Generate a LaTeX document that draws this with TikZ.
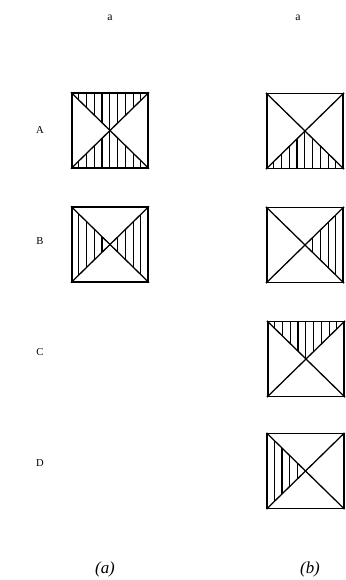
\documentclass[tikz,border=0pt]{standalone}
\usepackage{fontspec}
\setmainfont{Liberation Serif}
\usepackage{tikz}
\usetikzlibrary{positioning}

% hatch one triangle of a square: node, first corner, second corner
\newcommand{\hatchtri}[3]{%
  \begin{scope}
    \clip (#1.center) -- (#1.#2) -- (#1.#3) -- cycle;
    \foreach \i in {1,...,10}
      \draw[hatchline] ([xshift=\i*6.6pt]#1.north west) -- ([xshift=\i*6.6pt]#1.south west);
  \end{scope}}

\tikzset{
  sq/.style={draw, line width=1.4pt, minimum width=65pt, minimum height=63.5pt, inner sep=0pt},
  diag/.style={line width=1.1pt},
  hatchline/.style={line width=0.9pt},
  rowlab/.style={font=\small},
  collab/.style={font=\normalsize},
  sublab/.style={font=\Large\itshape}
}

\begin{document}
\begin{tikzpicture}[x=0.85pt, y=-0.85pt]
\useasboundingbox (0,0) rectangle (346,580);
% column and row labels
\node[collab] (ta) at (110,18) {a};
\node[collab] (tb) at (298,18) {a};
\node[rowlab] (rA) at (40,130) {A};
\node[rowlab] (rB) at (40,241) {B};
\node[rowlab] (rC) at (40,352) {C};
\node[rowlab] (rD) at (40,463) {D};
\node[sublab] (capa) at (105,569) {(a)};
\node[sublab] (capb) at (310,569) {(b)};
% squares
\node[sq] (aA) at (110,130.5) {};
\node[sq] (aB) at (110,244.5) {};
\node[sq] (bA) at (305,131) {};
\node[sq] (bB) at (305,245) {};
\node[sq] (bC) at (306,359) {};
\node[sq] (bD) at (305.5,471) {};
% hatching
\hatchtri{aA}{north west}{north east}
\hatchtri{aA}{south west}{south east}
\hatchtri{aB}{north west}{south west}
\hatchtri{aB}{north east}{south east}
\hatchtri{bA}{south west}{south east}
\hatchtri{bB}{north east}{south east}
\hatchtri{bC}{north west}{north east}
\hatchtri{bD}{north west}{south west}
% diagonals
\foreach \s in {aA,aB,bA,bB,bC,bD} {
  \draw[diag] (\s.north west) -- (\s.south east);
  \draw[diag] (\s.north east) -- (\s.south west);
}
\end{tikzpicture}
\end{document}
